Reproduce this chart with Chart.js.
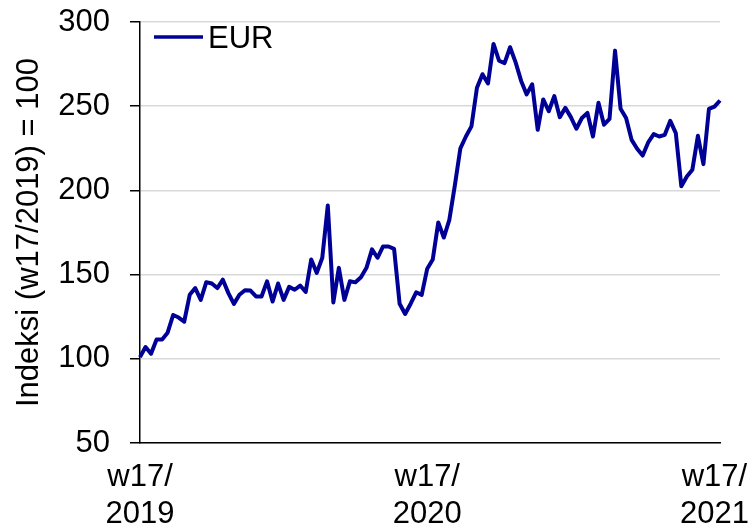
<!DOCTYPE html>
<html>
<head>
<meta charset="utf-8">
<script src="https://cdn.jsdelivr.net/npm/chart.js@4.4.1/dist/chart.umd.min.js"></script>
<style>
  html, body { margin: 0; padding: 0; background: #fff; }
  #wrap { width: 756px; height: 529px; }
</style>
</head>
<body>
<div id="wrap"><canvas id="chart" width="756" height="529"></canvas></div>
<script>
// weekly EUR index, w17/2019 = 100
const eurIndex = [
  101, 107, 103, 111.5, 111.5, 115.5, 126, 124.5, 122, 138,
  142, 135, 145.5, 144.7, 142, 147, 139, 132.6, 138, 140.7,
  140.5, 137, 137, 146, 134, 144.7, 135, 142.7, 141, 143.5,
  139.7, 159, 151, 160, 191, 133.5, 154, 135, 146, 145.4,
  148.4, 154, 165, 160, 166.7, 166.7, 165.3, 132.7, 126.6, 132.7,
  139.5, 138, 153.5, 159, 181, 172, 182.5, 203, 225, 232,
  238, 261, 269, 263.5, 287, 277, 275.6, 285, 276, 265,
  257, 263, 236, 254, 247, 256, 243.5, 249, 243.5, 236.6,
  243, 246, 232, 252, 239, 242.5, 283, 248.5, 243, 230,
  224.7, 220.7, 228.5, 233.4, 232, 233, 241.3, 234, 202.5, 208.3,
  212.3, 232.4, 215.6, 248.4, 249.8, 253.4
];

const startWeek = 17;
const startYear = 2019;
const weeksPerYear = 52;
const labelEvery = 52;

const weekLabels = eurIndex.map((_, i) => {
  const n = startWeek - 1 + i;
  return 'w' + (n % weeksPerYear + 1) + '/' + (startYear + Math.floor(n / weeksPerYear));
});

const yTicks = [50, 100, 150, 200, 250, 300];
const seriesName = 'EUR';
const lineColor = '#000096';
const font = "'Liberation Sans', Arial, sans-serif";
const fs = 31;

// legend drawn inside the plot, top-left
const insideLegend = {
  id: 'insideLegend',
  afterDraw(chart) {
    const ctx = chart.ctx;
    const a = chart.chartArea;
    const x = a.left + 14, y = a.top + 15;
    ctx.save();
    ctx.strokeStyle = lineColor;
    ctx.lineWidth = 3.5;
    ctx.beginPath();
    ctx.moveTo(x, y);
    ctx.lineTo(x + 49, y);
    ctx.stroke();
    ctx.fillStyle = '#000';
    ctx.font = fs + 'px ' + font;
    ctx.textBaseline = 'middle';
    ctx.fillText(chart.data.datasets[0].label, x + 54, y + 2);
    ctx.restore();
  }
};

new Chart(document.getElementById('chart'), {
  type: 'line',
  data: {
    labels: weekLabels,
    datasets: [{
      label: seriesName,
      data: eurIndex,
      borderColor: lineColor,
      borderWidth: 4,
      pointRadius: 0,
      tension: 0,
      borderJoinStyle: 'round',
      fill: false
    }]
  },
  options: {
    responsive: false,
    animation: false,
    devicePixelRatio: 1,
    layout: { padding: { top: 22, right: 36, left: 0, bottom: 0 } },
    plugins: {
      legend: { display: false },
      tooltip: { enabled: false }
    },
    scales: {
      x: {
        offset: false,
        grid: { display: false },
        border: { display: true, color: '#000', width: 1.5 },
        ticks: {
          autoSkip: false,
          maxRotation: 0,
          minRotation: 0,
          padding: 8,
          color: '#000',
          font: { family: font, size: fs, lineHeight: 1.2 },
          callback: (v, i) => {
            if (i % labelEvery !== 0) return null;
            const parts = weekLabels[i].split('/');
            return [parts[0] + '/', parts[1]];
          }
        },
        afterFit: s => { s.height = 86; s.paddingLeft = 0; s.paddingRight = 0; }
      },
      y: {
        min: yTicks[0],
        max: yTicks[yTicks.length - 1],
        afterBuildTicks: s => { s.ticks = yTicks.map(v => ({ value: v })); },
        grid: { color: '#d9d9d9', lineWidth: 1.5, tickColor: '#000', tickLength: 10, drawTicks: true },
        border: { display: true, color: '#000', width: 1.5 },
        ticks: {
          padding: 20,
          color: '#000',
          font: { family: font, size: fs }
        },
        title: {
          display: true,
          text: 'Indeksi (w17/2019) = 100',
          color: '#000',
          font: { family: font, size: fs, lineHeight: 1.2 },
          padding: { top: 11, bottom: 0 }
        },
        afterFit: s => { s.width = 140; s.paddingTop = 0; s.paddingBottom = 0; }
      }
    }
  },
  plugins: [insideLegend]
});
</script>
</body>
</html>
